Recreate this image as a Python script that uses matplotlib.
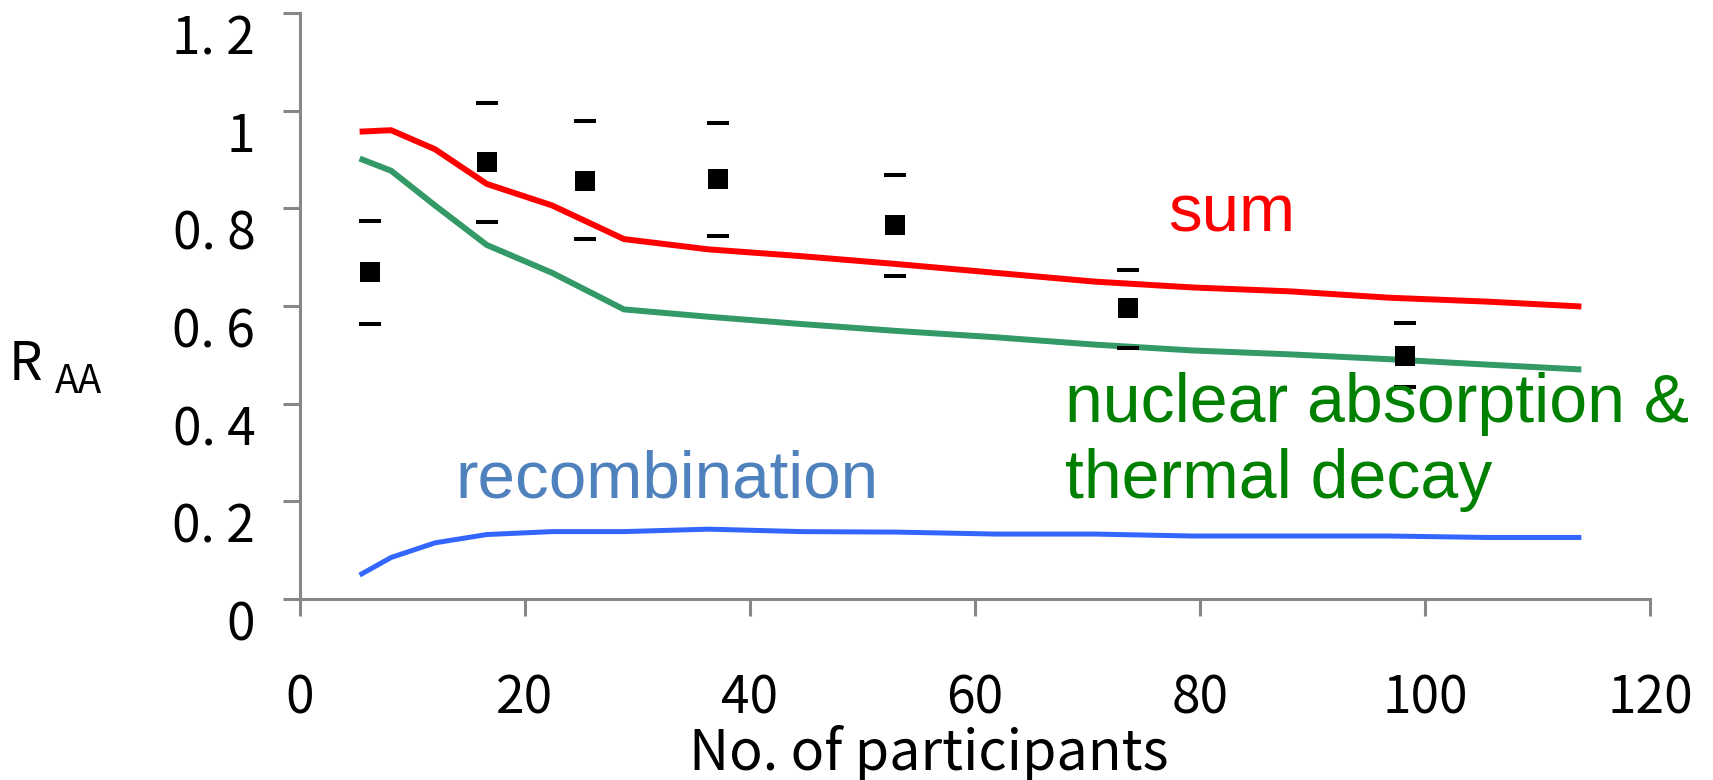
import matplotlib
matplotlib.use("Agg")
import matplotlib.pyplot as plt
import numpy as np

# Model curves: nuclear modification factor vs. number of participants
npart_model = [5.3, 8.1, 12.0, 16.6, 22.4, 28.8, 36.3, 44.6, 53.0, 61.8,
               70.6, 79.3, 88.0, 96.8, 105.5, 113.9]
raa_sum = [0.957, 0.960, 0.921, 0.850, 0.806, 0.737, 0.716, 0.702, 0.686,
           0.668, 0.650, 0.638, 0.630, 0.617, 0.609, 0.599]
raa_absorption = [0.902, 0.877, 0.806, 0.725, 0.668, 0.593, 0.578, 0.563,
                  0.549, 0.536, 0.521, 0.509, 0.501, 0.491, 0.480, 0.470]
raa_recomb = [0.049, 0.085, 0.115, 0.132, 0.138, 0.138, 0.143, 0.138, 0.137,
              0.133, 0.133, 0.129, 0.129, 0.129, 0.126, 0.126]

# Measured points with lower / upper bounds
npart_data = [6.2, 16.6, 25.3, 37.2, 52.9, 73.6, 98.2]
raa_data = [0.669, 0.894, 0.857, 0.861, 0.766, 0.595, 0.498]
raa_lo = [0.563, 0.771, 0.738, 0.743, 0.661, 0.515, 0.434]
raa_hi = [0.775, 1.015, 0.979, 0.975, 0.869, 0.674, 0.565]

xticks = [0, 20, 40, 60, 80, 100, 120]
yticks = [0, 0.2, 0.4, 0.6, 0.8, 1.0, 1.2]
ytick_labels = ["0", "0. 2", "0. 4", "0. 6", "0. 8", "1", "1. 2"]

label_font = ["Noto Sans CJK KR", "DejaVu Sans"]
note_font = ["Liberation Sans", "DejaVu Sans"]
axis_gray = "#878787"

fig = plt.figure(figsize=(17.13, 7.80), dpi=100)
ax = fig.add_axes([0.17513, 0.23205, 0.78809, 0.75128])

ax.plot(npart_model, raa_sum, color="#ff0000", lw=4.3, solid_capstyle="butt")
ax.plot(npart_model, raa_absorption, color="#339966", lw=4.3, solid_capstyle="butt")
ax.plot(npart_model, raa_recomb, color="#3366ff", lw=3.6, solid_capstyle="butt")

# bounds shown as caps only, no vertical bar
yerr = [np.array(raa_data) - np.array(raa_lo), np.array(raa_hi) - np.array(raa_data)]
eb = ax.errorbar(npart_data, raa_data, yerr=yerr, fmt="none", ecolor="black",
                 capsize=7.9, capthick=2.9)
for coll in eb[2]:
    coll.set_visible(False)
ax.plot(npart_data, raa_data, "s", color="black", ms=14.2, mew=0, ls="none")

ax.set_xlim(0, 120)
ax.set_ylim(0, 1.2)
ax.set_xticks(xticks)
ax.set_yticks(yticks)
ax.set_yticklabels(ytick_labels)

for side in ("top", "right"):
    ax.spines[side].set_visible(False)
for side in ("left", "bottom"):
    ax.spines[side].set_color(axis_gray)
    ax.spines[side].set_linewidth(2.2)

ax.tick_params(axis="both", direction="out", length=12.2, width=2.2,
               color=axis_gray, labelsize=37)
ax.tick_params(axis="x", pad=40)
ax.tick_params(axis="y", pad=20)
for lab in ax.get_xticklabels() + ax.get_yticklabels():
    lab.set_fontfamily(label_font)
for lab in ax.get_yticklabels():
    lab.set_verticalalignment("top")

ax.set_xlabel("No. of participants", fontsize=40, family=label_font)
ax.xaxis.label.set_verticalalignment("baseline")
ax.xaxis.set_label_coords(0.466, -0.291)

fig.text(9 / 1713, 1 - 380 / 780, "R", fontsize=38, family=label_font, va="baseline")
fig.text(55 / 1713, 1 - 393 / 780, "AA", fontsize=28, family=label_font, va="baseline")

ax.text(77.2, 0.752, "sum", color="#ff0000", fontsize=48.5, family=note_font, va="baseline")
ax.text(68.0, 0.3625, "nuclear absorption &", color="#008000", fontsize=49,
        family=note_font, va="baseline")
ax.text(68.0, 0.207, "thermal decay", color="#008000", fontsize=49,
        family=note_font, va="baseline")
ax.text(13.8, 0.207, "recombination", color="#4f81bd", fontsize=48.5,
        family=note_font, va="baseline")

fig.savefig("out.png", dpi=100)
